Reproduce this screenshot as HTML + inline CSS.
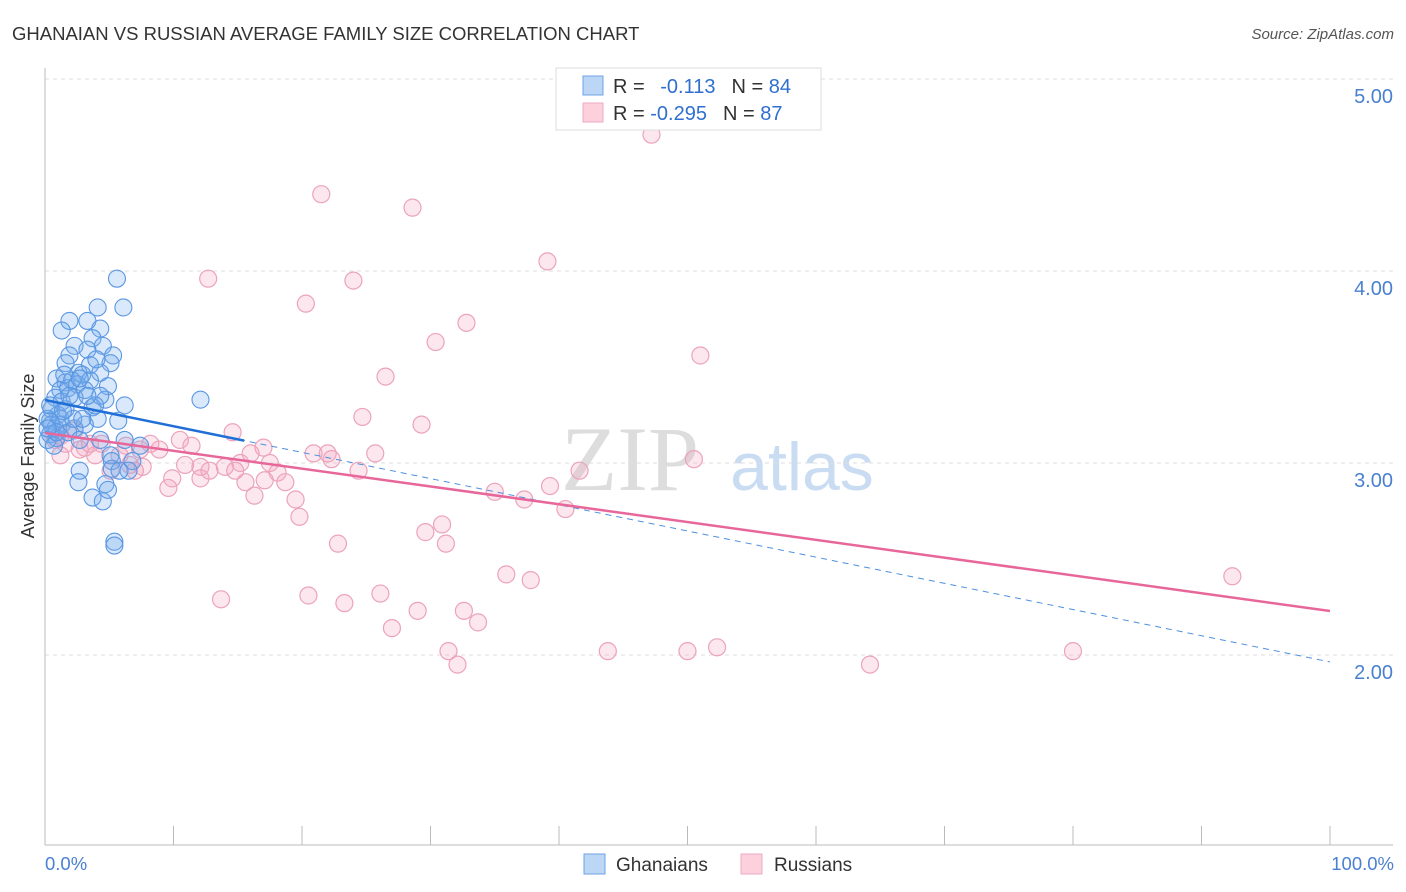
<!DOCTYPE html>
<html><head><meta charset="utf-8"><style>
body{margin:0;background:#fff;font-family:"Liberation Sans",sans-serif}
svg{display:block}
</style></head><body>
<svg id="chart" width="1406" height="892">
<text x="12" y="40" font-size="18.5" fill="#333">GHANAIAN VS RUSSIAN AVERAGE FAMILY SIZE CORRELATION CHART</text>
<text x="1394" y="39" font-size="15" fill="#555" font-style="italic" text-anchor="end">Source: ZipAtlas.com</text>
<text x="630" y="490" font-size="92" fill="#ddd" font-family="Liberation Serif,serif" text-anchor="middle">ZIP</text>
<text x="802" y="490" font-size="68" fill="#c9dcf2" text-anchor="middle">atlas</text>
<g id="grid"></g>
<g id="axes"></g>
<g id="pts"></g>
<g id="lines"></g>
<text x="34" y="456" font-size="18" fill="#333" text-anchor="middle" transform="rotate(-90 34 456)">Average Family Size</text>
<text x="45" y="870" font-size="18.5" fill="#4a80d0">0.0%</text>
<text x="1394" y="870" font-size="18.5" fill="#4a80d0" text-anchor="end">100.0%</text>
<g>
<rect x="556" y="68" width="265" height="62" fill="#fff" stroke="#ddd"/>
<rect x="583" y="76" width="20" height="19" fill="#bcd6f6" stroke="#6fa3e6"/>
<rect x="583" y="103" width="20" height="19" fill="#fcd0dd" stroke="#eeaac0"/>
<text x="613" y="93" font-size="20" fill="#333">R = <tspan fill="#2f6fd0" dx="10">-0.113</tspan><tspan dx="16" fill="#333">N = </tspan><tspan fill="#2f6fd0">84</tspan></text>
<text x="613" y="120" font-size="20" fill="#333">R = <tspan fill="#2f6fd0">-0.295</tspan><tspan dx="16" fill="#333">N = </tspan><tspan fill="#2f6fd0">87</tspan></text>
</g>
<g>
<rect x="584" y="854" width="21" height="20" fill="#bcd6f6" stroke="#6fa3e6"/>
<text x="616" y="871" font-size="19" fill="#333">Ghanaians</text>
<rect x="741" y="854" width="21" height="20" fill="#fcd0dd" stroke="#eeaac0"/>
<text x="774" y="871" font-size="19" fill="#333">Russians</text>
</g>
</svg>
<script>
const yTicks=[2,3,4,5];
const yTickLabels=["2.00","3.00","4.00","5.00"];
const xTicks=[0,10,20,30,40,50,60,70,80,90,100];
const ghanaians=[[5.6,3.96],[4.1,3.81],[6.1,3.81],[1.9,3.74],[3.3,3.74],[4.3,3.70],[1.3,3.69],[3.7,3.65],[2.3,3.61],[4.5,3.61],[3.3,3.59],[5.3,3.56],[1.9,3.56],[5.1,3.52],[3.5,3.51],[2.6,3.47],[2.9,3.46],[4.3,3.47],[0.9,3.44],[1.6,3.42],[2.1,3.43],[3.5,3.43],[4.9,3.40],[1.2,3.38],[1.8,3.39],[2.5,3.41],[3.1,3.38],[0.8,3.34],[1.3,3.32],[4.7,3.33],[2.3,3.34],[3.7,3.29],[0.5,3.28],[1.0,3.25],[0.4,3.22],[6.2,3.30],[5.7,3.22],[4.1,3.23],[12.1,3.33],[0.8,3.18],[1.3,3.20],[2.3,3.18],[0.4,3.15],[0.9,3.13],[1.8,3.16],[6.2,3.12],[7.4,3.09],[2.7,3.12],[5.1,3.04],[5.2,3.01],[6.8,3.01],[6.5,2.96],[2.7,2.96],[5.2,2.97],[2.6,2.90],[3.7,2.82],[4.5,2.80],[4.7,2.89],[4.9,2.86],[5.4,2.59],[5.4,2.57],[0.5,3.20],[0.2,3.23],[1.2,3.23],[1.6,3.28],[3.1,3.20],[0.4,3.30],[0.2,3.12],[0.7,3.09],[1.9,3.35],[4.0,3.54],[4.3,3.35],[1.6,3.52],[1.5,3.46],[2.7,3.44],[3.9,3.30],[5.8,2.96],[4.3,3.12],[2.2,3.23],[0.9,3.16],[1.4,3.27],[3.3,3.35],[0.2,3.18],[2.9,3.23]];
const russians=[[47.2,4.71],[21.5,4.40],[28.6,4.33],[39.1,4.05],[12.7,3.96],[24.0,3.95],[20.3,3.83],[32.8,3.73],[30.4,3.63],[51.0,3.56],[26.5,3.45],[24.7,3.24],[29.3,3.20],[14.6,3.16],[10.5,3.12],[11.4,3.09],[17.0,3.08],[6.3,3.09],[4.4,3.10],[3.1,3.08],[1.6,3.10],[1.2,3.14],[2.7,3.07],[7.4,3.07],[8.9,3.07],[16.0,3.05],[20.9,3.05],[22.0,3.05],[22.3,3.02],[25.7,3.05],[50.5,3.02],[41.6,2.96],[17.5,3.00],[15.2,3.00],[12.1,2.98],[14.0,2.98],[10.9,2.99],[7.6,2.98],[6.6,2.99],[5.1,2.96],[18.1,2.95],[24.4,2.96],[9.9,2.92],[17.1,2.91],[18.7,2.90],[15.6,2.90],[12.1,2.92],[9.6,2.87],[39.3,2.88],[35.0,2.85],[37.3,2.81],[19.5,2.81],[16.3,2.83],[40.5,2.76],[19.8,2.72],[30.9,2.68],[29.6,2.64],[31.2,2.58],[22.8,2.58],[92.4,2.41],[35.9,2.42],[37.8,2.39],[13.7,2.29],[20.5,2.31],[26.1,2.32],[23.3,2.27],[29.0,2.23],[32.6,2.23],[33.7,2.17],[27.0,2.14],[31.4,2.02],[32.1,1.95],[43.8,2.02],[50.0,2.02],[52.3,2.04],[64.2,1.95],[80.0,2.02],[2.3,3.17],[0.8,3.12],[3.5,3.10],[5.8,3.04],[8.2,3.10],[3.9,3.04],[12.8,2.96],[14.8,2.96],[1.2,3.04],[7.0,2.96]];
const blueTrend=[3.328,1.964];
const pinkTrend=[3.156,2.229];
const blueSolidEnd=15.5;
const NS="http://www.w3.org/2000/svg";
const X=v=>45+v*12.85, Y=v=>79+(5-v)*192;
function mk(tag,attrs,parent){const e=document.createElementNS(NS,tag);for(const k in attrs)e.setAttribute(k,attrs[k]);parent.appendChild(e);return e;}
const grid=document.getElementById('grid'),axes=document.getElementById('axes'),pts=document.getElementById('pts'),lines=document.getElementById('lines');
yTicks.forEach((t,i)=>{
 const l=mk('line',{x1:45,x2:1393,y1:Y(t),y2:Y(t),stroke:'#ddd','stroke-dasharray':'4 4'},grid);
 
 
 const tx=mk('text',{x:1393,y:Y(t)+24,'font-size':20,fill:'#4a80d0','text-anchor':'end'},grid);
 tx.textContent=yTickLabels[i];
 
 
});
const ya=mk('line',{x1:45,x2:45,y1:68,y2:845,stroke:'#bbb'},axes);


const xa=mk('line',{x1:45,x2:1393,y1:845,y2:845,stroke:'#bbb'},axes);


xTicks.forEach(t=>{
 const l=mk('line',{x1:X(t),x2:X(t),y1:826,y2:845,stroke:'#bbb'},axes);
 
 
});
russians.forEach(p=>{
 const c=mk('circle',{cx:X(p[0]),cy:Y(p[1]),r:8.5,fill:'rgba(246,170,195,0.28)',stroke:'#eca3bb','stroke-width':1.2},pts);
 
 
});
ghanaians.forEach(p=>{
 const c=mk('circle',{cx:X(p[0]),cy:Y(p[1]),r:8.5,fill:'rgba(120,172,238,0.28)',stroke:'#5a97e2','stroke-width':1.1},pts);
 
 
});
const by=x=>blueTrend[0]+(blueTrend[1]-blueTrend[0])*x/100;
const bd=mk('line',{x1:X(0),y1:Y(by(0)),x2:X(100),y2:Y(by(100)),stroke:'#4d8fe0','stroke-width':1,'stroke-dasharray':'6 5'},lines);


const bs=mk('line',{x1:X(0),y1:Y(by(0)),x2:X(blueSolidEnd),y2:Y(by(blueSolidEnd)),stroke:'#1f6fd6','stroke-width':2.5},lines);


const pl=mk('line',{x1:X(0),y1:Y(pinkTrend[0]),x2:X(100),y2:Y(pinkTrend[1]),stroke:'#e8679a','stroke-width':2.5},lines);


</script>
</body></html>
